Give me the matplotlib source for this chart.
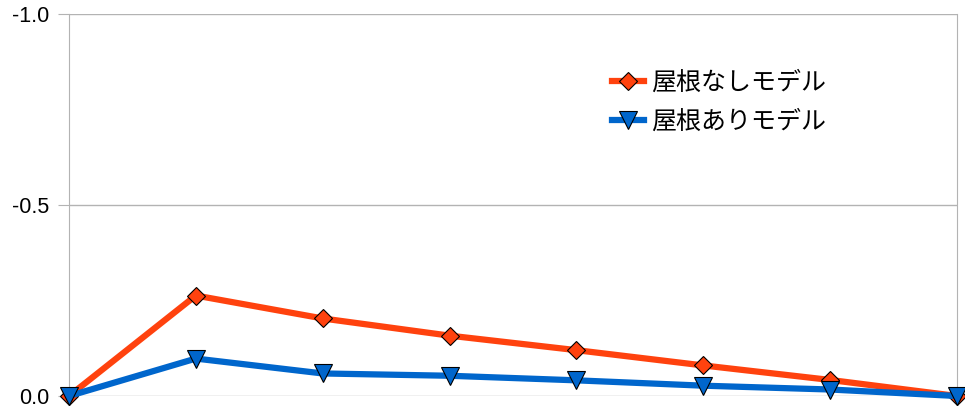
import matplotlib.pyplot as plt

# series values (y axis runs 0 at bottom to -1.0 at top)
points = [0, 1, 2, 3, 4, 5, 6, 7]
no_roof = [0.0, -0.263, -0.203, -0.158, -0.120, -0.080, -0.042, 0.0]
with_roof = [0.0, -0.098, -0.059, -0.053, -0.041, -0.027, -0.017, 0.0]
labels = ['屋根なしモデル', '屋根ありモデル']
yticks = [0.0, -0.5, -1.0]

plt.rcParams['font.family'] = ['Liberation Sans', 'Noto Sans CJK JP', 'DejaVu Sans']

fig = plt.figure(figsize=(9.65, 4.12), dpi=100)
ax = fig.add_axes([69 / 965, 16 / 412, 888 / 965, 382 / 412])

ax.plot(points, no_roof, color='#ff420e', lw=4.5, marker='D', ms=9.5,
        mfc='#ff420e', mec='black', mew=0.8, clip_on=False, zorder=3, label=labels[0])
ax.plot(points, with_roof, color='#0066cc', lw=4.5, marker='v', ms=13.5,
        mfc='#0066cc', mec='black', mew=0.8, clip_on=False, zorder=4, label=labels[1])

ax.set_xlim(points[0], points[-1])
ax.set_ylim(0, -1.0)
ax.set_yticks(yticks)
ax.set_yticklabels([f'{v:.1f}' for v in yticks], fontsize=15.5)
ax.set_xticks([])
ax.grid(axis='y', color='#b3b3b3', lw=1)
ax.tick_params(axis='y', length=8, color='#b3b3b3', pad=6)
for side in ['left', 'right']:
    ax.spines[side].set_color('#b3b3b3')
for side in ['top', 'bottom']:
    ax.spines[side].set_visible(False)

ax.legend(loc='upper left', bbox_to_anchor=(0.611, 0.855), frameon=False,
          prop={'family': ['Noto Sans CJK JP', 'DejaVu Sans'], 'size': 18},
          borderpad=0, borderaxespad=0, handlelength=1.3, handletextpad=0.3,
          labelspacing=0.55)

plt.savefig('out.png', dpi=100)
